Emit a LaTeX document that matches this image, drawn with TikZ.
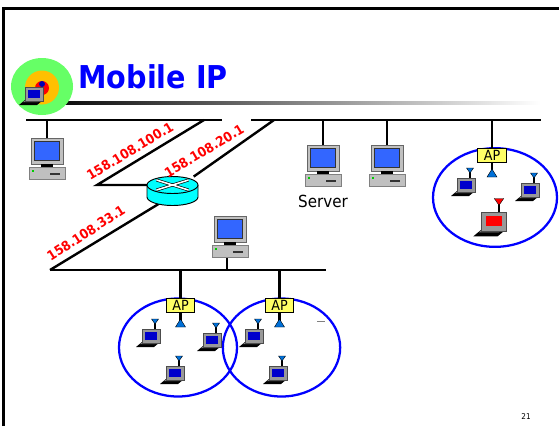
\documentclass[tikz,border=0pt]{standalone}
\usepackage{fontspec}
\setmainfont{DejaVu Sans}[FakeStretch=0.91]
\usetikzlibrary{shapes.geometric}

\definecolor{screenblue}{HTML}{3366FF}
\definecolor{lapblue}{HTML}{0000CC}
\definecolor{antblue}{HTML}{0070D8}
\definecolor{caseg}{HTML}{C0C0C0}
\definecolor{apyellow}{HTML}{FFFF66}
\definecolor{routercyan}{HTML}{00FFFF}
\definecolor{logogreen}{HTML}{66FF66}
\definecolor{logoorange}{HTML}{FFC000}

\tikzset{
  net/.style={line width=1.8pt},
  cell/.style={ellipse,draw=blue,line width=1.7pt,inner sep=0pt},
  apbox/.style={rectangle,draw=black,fill=apyellow,line width=0.6pt,inner sep=0pt,minimum width=21.5pt,minimum height=10.5pt,font=\fontsize{10.5}{11}\selectfont},
  iplabel/.style={red,font=\fontsize{10}{10}\selectfont\bfseries,inner sep=0pt},
  pics/desktop/.style={code={
    \draw [black!60,fill=caseg,line width=0.5pt] (-16,0) rectangle (16,26);
    \draw [black!80,fill=screenblue,line width=0.5pt] (-12.5,3) rectangle (12.5,22);
    \fill [black] (-6,26) rectangle (6,29);
    \draw [black!50,fill=caseg,line width=0.4pt] (-18,29) rectangle (18,41);
    \fill [green!80!black] (-15,32) rectangle (-13,34);
    \fill [black!80] (3,35) rectangle (13,36.5);
  }},
  pics/lapbody/.style={code={
    \fill [black] (-19,18) -- (-13,13) -- (5,13) -- (-1,18) -- cycle;
    \fill [black!50] (-15,15) -- (-12,13) -- (3,13) -- (0,15) -- cycle;
    \draw [black!70,fill=black!40,line width=0.3pt] (-13,0) rectangle (5,14);
    \fill [#1] (-10,3) rectangle (2,10.5);
  }},
  pics/laptop/.style 2 args={code={
    \pic [transform shape] {lapbody=#1};
    \draw [line width=1.2pt] (0,0) -- (0,-6);
    \draw [black,fill=#2,line width=0.3pt] (-3.5,-10) -- (3.5,-10) -- (0,-5) -- cycle;
  }},
  pics/router/.style={code={
    \draw [fill=routercyan,line width=0.7pt] (-25.5,-6) -- (-25.5,6) arc [start angle=180,end angle=0,x radius=25.5,y radius=8.5] -- (25.5,-6);
    \draw [fill=routercyan,line width=0.7pt] (0,-6) ellipse [x radius=25.5,y radius=8.5];
    \draw [black,line width=2.2pt] (-16,-11) -- (16,-1);
    \draw [black,line width=2.2pt] (-16,-1) -- (16,-11);
    \draw [white,line width=1.2pt] (-16,-11) -- (16,-1);
    \draw [white,line width=1.2pt] (-16,-1) -- (16,-11);
  }},
}

\begin{document}
\begin{tikzpicture}[x=0.75pt,y=-0.75pt]
\useasboundingbox (0,0) rectangle (559,426);

% slide frame and title
\draw [line width=1.8pt] (3.5,426) -- (3.5,8.5) -- (559,8.5);
\shade [left color=black,right color=white] (40,101) rectangle (540,104);
\fill [logogreen] (42,86.5) ellipse [x radius=31,y radius=28.5];
\fill [logoorange] (42,87.5) circle [radius=17];
\fill [red] (42,88) circle [radius=7];
\fill [blue!70!black] (42,84) circle [radius=3];
\pic at (38,87) {lapbody=lapblue};
\node (title)	at (153,77)	[blue,font=\fontsize{23.6}{26}\selectfont\bfseries,inner sep=0pt] {Mobile IP};
\node (pageno)	at (526,417)	[font=\fontsize{6}{7}\selectfont,inner sep=0pt] {21};

\coordinate (bus1w)	at (26,120);
\coordinate (bus1e)	at (222,120);
\coordinate (bus2w)	at (251,120);
\coordinate (bus2e)	at (541,120);
\coordinate (bus3w)	at (50,270);
\coordinate (bus3e)	at (326,270);
\coordinate (tap1)	at (204,120);
\coordinate (tap2)	at (274,120);
\coordinate (elbow1)	at (97,185);

\coordinate (pc1)	at (47,138);
\coordinate (server)	at (323,145);
\coordinate (pc3)	at (387,145);
\coordinate (pc4)	at (230,216);

\node (router)	at (172.5,191.5)	[inner sep=0pt,minimum width=38pt,minimum height=22pt] {};

\node (cell1)	at (495,197.5)	[cell,minimum width=93pt,minimum height=74pt] {};
\node (cell2)	at (178,347.5)	[cell,minimum width=88.5pt,minimum height=73.5pt] {};
\node (cell3)	at (281.5,347.5)	[cell,minimum width=88pt,minimum height=73.5pt] {};

\coordinate (mast1)	at (492,172);
\coordinate (mast2)	at (180.5,322);
\coordinate (mast3)	at (279.5,322);

\node (ap1)	at (492,155)	[apbox] {};
\node (ap2)	at (180.5,305)	[apbox] {};
\node (ap3)	at (279.5,305)	[apbox] {};

\draw [net] (bus1w) -- (bus1e);
\draw [net] (bus2w) -- (bus2e);
\draw [net] (bus3w) -- (bus3e);
\draw [net] (tap1) -- (elbow1) -- (elbow1 -| router);
\draw [net] (tap2) -- (router);
\draw [net] (bus3w) -- ([yshift=-3pt]router.center);
\draw [net] (pc1 |- bus1w) -- (pc1);
\draw [net] (server |- bus2w) -- (server);
\draw [net] (pc3 |- bus2w) -- (pc3);
\draw [net] ([xshift=-2.25pt]pc4 |- bus3w) -- ([xshift=-2.25pt,yshift=-30pt]pc4);
\draw [net] (ap1 |- bus2w) -- (ap1);
\draw [net] (ap2 |- bus3w) -- (ap2);
\draw [net] (ap3 |- bus3w) -- (ap3);

\foreach \m/\a in {mast1/ap1,mast2/ap2,mast3/ap3} {
  \draw [net] (\a) -- (\m);
  \draw [black,fill=antblue,line width=0.3pt] (\m) ++(0,-3) -- ++(5,8) -- ++(-10,0) -- cycle;
}
\node (ap1t)	at (ap1)	[apbox] {AP};
\node (ap2t)	at (ap2)	[apbox] {AP};
\node (ap3t)	at (ap3)	[apbox] {AP};

\pic at (pc1) {desktop};
\pic at (server) {desktop};
\pic at (pc3) {desktop};
\pic at (pc4) {desktop};
\pic at (172.5,191) {router};

\node (servername)	at (323,201)	[font=\fontsize{12.5}{14}\selectfont,inner sep=0pt] {Server};
\node (ip1)	at (130,151)	[iplabel,rotate=31] {158.108.100.1};
\node (ip2)	at (204,151)	[iplabel,rotate=31] {158.108.20.1};
\node (ip3)	at (86,233)	[iplabel,rotate=33] {158.108.33.1};

\pic at (470,178) {laptop={lapblue}{antblue}};
\pic at (534,183) {laptop={lapblue}{antblue}};
\pic [transform shape,scale=1.35] at (499,212) {laptop={red}{red}};
\pic at (155,329) {laptop={lapblue}{antblue}};
\pic at (216,333) {laptop={lapblue}{antblue}};
\pic at (179,366) {laptop={lapblue}{antblue}};
\pic at (258,329) {laptop={lapblue}{antblue}};
\pic at (282,366) {laptop={lapblue}{antblue}};

\draw [gray,line width=0.5pt] (317,321) -- (325,321);

\end{tikzpicture}
\end{document}
